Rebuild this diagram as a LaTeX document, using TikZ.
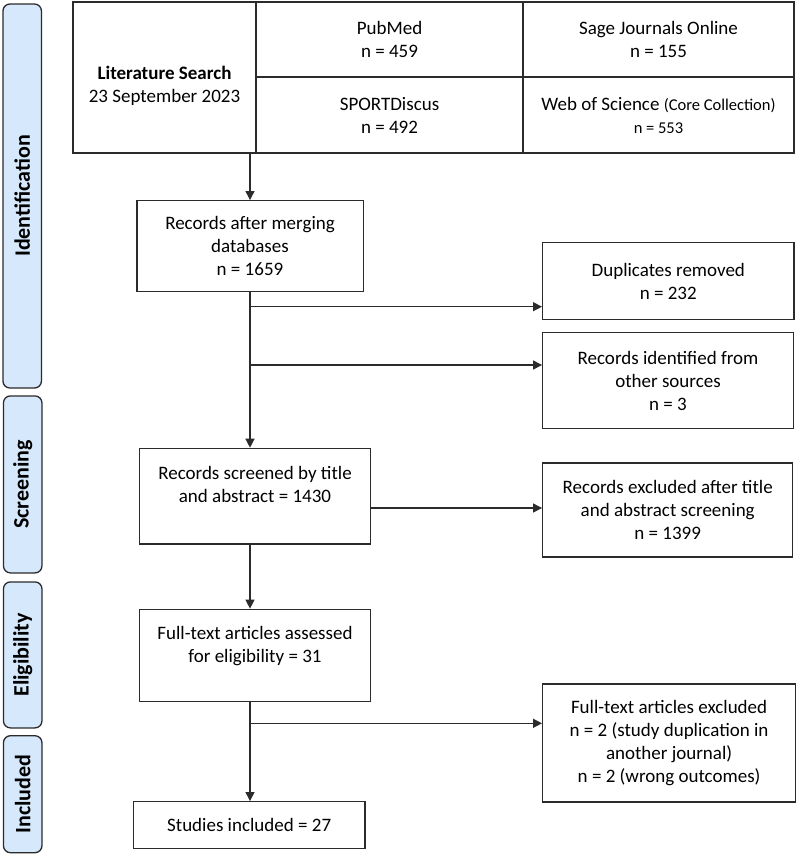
\documentclass[tikz,border=0pt]{standalone}
\usepackage{fontspec}
\setmainfont{Carlito}
\usetikzlibrary{arrows.meta}
\definecolor{lnc}{HTML}{2B2B2B}
\definecolor{barc}{HTML}{D6E8FB}
\begin{document}
\begin{tikzpicture}[x=1pt,y=-1pt,
  box/.style={draw=lnc,line width=1.3pt,align=center,inner sep=0pt,font=\fontsize{19}{23}\selectfont},
  plain/.style={align=center,inner sep=0pt,font=\fontsize{19}{23}\selectfont},
  arr/.style={draw=lnc,line width=1.3pt,-{Triangle[length=9pt,width=9pt]}},
  phase/.style={draw=lnc,line width=1.3pt,fill=barc,rounded corners=7pt,rotate=90,inner sep=0pt,minimum height=38.5pt,font=\fontsize{22}{26}\selectfont\bfseries}]
\useasboundingbox (0,0) rectangle (797,855);
% phase bars
\node[phase,minimum width=384pt] (idf) at (22.2,196) {Identification};
\node[phase,minimum width=177pt] (scrn) at (22.7,484.4) {Screening};
\node[phase,minimum width=146pt] (elig) at (22.7,654.9) {Eligibility};
\node[phase,minimum width=117pt] (incl) at (22.7,794.2) {Included};
% search table
\node[box,minimum width=183pt,minimum height=151pt] (lit) at (164.5,77.5) {};
\node[plain] (littext) at (164.5,86) {{\bfseries Literature Search}\\23 September 2023};
\node[box,minimum width=267pt,minimum height=75pt] (pub) at (389.5,39.5) {PubMed\\n = 459};
\node[box,minimum width=271pt,minimum height=75pt] (sage) at (658.5,39.5) {Sage Journals Online\\n = 155};
\node[box,minimum width=267pt,minimum height=76pt] (sport) at (389.5,115) {SPORTDiscus\\n = 492};
\node[box,minimum width=271pt,minimum height=76pt] (wos) at (658.5,115) {Web of Science {\fontsize{16.5}{20}\selectfont(Core Collection)}\\{\fontsize{16.5}{20}\selectfont n = 553}};
% flow boxes
\node[box,minimum width=226.3pt,minimum height=91pt] (rec) at (250,246.2) {Records after merging\\databases\\n = 1659};
\node[box,minimum width=251.3pt,minimum height=76.6pt] (dup) at (668.3,281) {Duplicates removed\\n = 232};
\node[box,minimum width=250.6pt,minimum height=95.6pt] (oth) at (668,380.5) {Records identified from\\other sources\\n = 3};
\node[box,minimum width=231.4pt,minimum height=95.7pt] (scr) at (255,496.2) {Records screened by title\\and abstract = 1430\\\mbox{}};
\node[box,minimum width=250pt,minimum height=94pt] (exc) at (667.7,510) {Records excluded after title\\and abstract screening\\n = 1399};
\node[box,minimum width=231.4pt,minimum height=92.4pt] (ft) at (255,655.5) {Full-text articles assessed\\for eligibility = 31\\\mbox{}};
\node[box,minimum width=252.8pt,minimum height=118pt] (fte) at (669.1,743) {Full-text articles excluded\\n = 2 (study duplication in\\another journal)\\n = 2 (wrong outcomes)};
\node[box,minimum width=231.7pt,minimum height=46.6pt] (stu) at (249.2,825) {Studies included = 27};
% connectors
\coordinate (j1) at (250,306.7);
\coordinate (j2) at (250,365);
\coordinate (j3) at (370.7,508);
\coordinate (j4) at (250,723.3);
\draw[arr] (rec.north |- lit.south) -- (rec.north);
\draw[arr] (rec.south) -- (scr.north -| rec.south);
\draw[arr] (j1) -- (j1 -| dup.west);
\draw[arr] (j2) -- (j2 -| oth.west);
\draw[arr] (j3) -- (j3 -| exc.west);
\draw[arr] (scr.south -| rec.south) -- (ft.north -| rec.south);
\draw[arr] (ft.south -| j4) -- (stu.north -| j4);
\draw[arr] (j4) -- (j4 -| fte.west);
\end{tikzpicture}
\end{document}
